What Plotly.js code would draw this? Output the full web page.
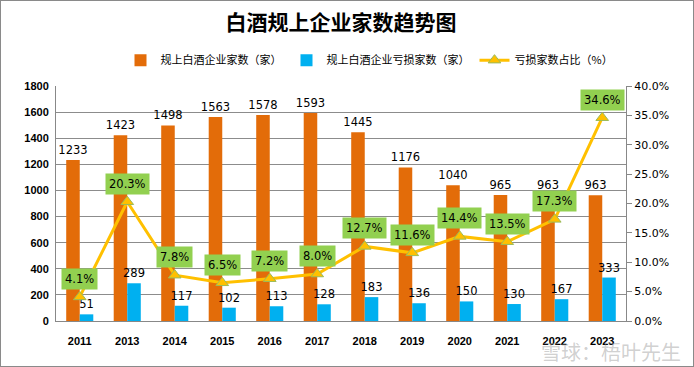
<!DOCTYPE html>
<html><head><meta charset="utf-8">
<script src="https://cdn.plot.ly/plotly-3.0.1.min.js"></script>
<style>html,body{margin:0;padding:0;background:#fff}#c{width:692px;height:365px;border:1px solid #8a8a8a}</style>
</head><body><div id="c"></div>
<script>
var years = ['2011','2013','2014','2015','2016','2017','2018','2019','2020','2021','2022','2023'];
var totalCount = [1233,1423,1498,1563,1578,1593,1445,1176,1040,965,963,963];
var lossCount = [51,289,117,102,113,128,183,136,150,130,167,333];
var lossRatio = [4.1,20.3,7.8,6.5,7.2,8.0,12.7,11.6,14.4,13.5,17.3,34.6];
var leftTicks = [0,200,400,600,800,1000,1200,1400,1600,1800];
var rightTicks = [0,5,10,15,20,25,30,35,40];

var numFont = {family:'DejaVu Sans, sans-serif', size:11.5, color:'#000'};
var traces = [
  {type:'bar', name:'规上白酒企业家数（家）', x:years, y:totalCount, marker:{color:'#E36C09'},
   text:totalCount.map(String), textposition:'outside', constraintext:'none', textfont:numFont, cliponaxis:false},
  {type:'bar', name:'规上白酒企业亏损家数（家）', x:years, y:lossCount, marker:{color:'#00B0F0'},
   text:lossCount.map(String), textposition:'outside', constraintext:'none', textfont:numFont, cliponaxis:false},
  {type:'scatter', mode:'lines+markers', name:'亏损家数占比（%）', x:years, y:lossRatio, yaxis:'y2',
   line:{color:'#FFC000', width:3}, marker:{symbol:'triangle-up', size:11, color:'#FFC000', line:{color:'#9BBB59', width:1}}}
];
var ann = years.map(function(yr,i){
  return {x:i, y:lossRatio[i], xref:'x', yref:'y2', text:lossRatio[i].toFixed(1)+'%', showarrow:false,
    yshift:18, bgcolor:'#92D050', borderpad:3, font:{family:'DejaVu Sans, sans-serif', size:11.5, color:'#000'}};
});
ann.push({xref:'paper', yref:'paper', x:1.1, y:-0.13, xanchor:'right', yanchor:'middle', showarrow:false,
  text:'雪球：梧叶先生', font:{family:'Noto Sans CJK SC', size:20, color:'rgba(150,150,150,0.45)'}});
var tickF = {family:'Liberation Sans, Arial, sans-serif', size:11, color:'#000', weight:'bold'};
var layout = {
  width:692, height:365, margin:{l:55, r:67, t:85, b:45},
  paper_bgcolor:'#fff', plot_bgcolor:'#fff',
  title:{text:'白酒规上企业家数趋势图', x:0.5, xref:'paper', y:0.94, yanchor:'middle',
    font:{family:'Noto Sans CJK SC', size:21, color:'#000', weight:'bold'}},
  barmode:'group', bargap:0.43, bargroupgap:0,
  showlegend:true,
  legend:{orientation:'h', x:0.55, xanchor:'center', y:1.11, yanchor:'middle',
    font:{family:'Noto Sans CJK SC', size:11, color:'#000'}, itemwidth:30, traceorder:'normal'},
  xaxis:{type:'category', range:[-0.5,11.5], autorange:false, tickfont:tickF, ticklabelstandoff:10,
    showline:true, linecolor:'#888', ticks:'', showgrid:false},
  yaxis:{range:[0,1800], tickvals:leftTicks, tickfont:tickF, ticklabelstandoff:4, showgrid:true, gridcolor:'#8c8c8c', gridwidth:1,
    showline:true, linecolor:'#888', zeroline:false, ticks:''},
  yaxis2:{overlaying:'y', side:'right', range:[0,40], tickvals:rightTicks,
    ticktext:rightTicks.map(function(v){return v.toFixed(1)+'%';}),
    tickfont:{family:'DejaVu Sans, sans-serif', size:11, color:'#000'}, showgrid:false, showline:true,
    linecolor:'#888', ticks:'outside', ticklen:5, tickcolor:'#888', zeroline:false},
  annotations:ann
};
Plotly.newPlot('c', traces, layout, {displayModeBar:false, staticPlot:true});
</script></body></html>
